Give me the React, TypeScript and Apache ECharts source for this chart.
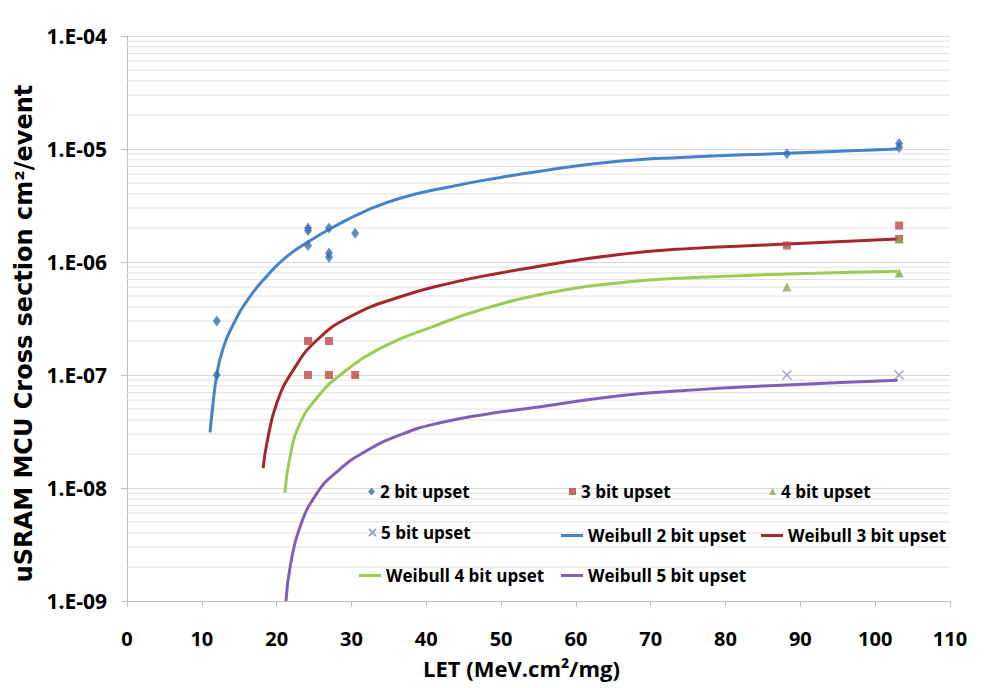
import React, { useEffect, useRef } from 'react';
import * as echarts from 'echarts';

// ---- Measured points (LET in MeV.cm²/mg, cross section in cm²/event) ----
const twoBitX = [12.0, 12.0, 24.2, 24.2, 24.2, 27.0, 27.0, 27.0, 30.5, 88.2, 103.2, 103.2];
const twoBitY = [3.0e-7, 1.0e-7, 2.0e-6, 1.9e-6, 1.4e-6, 2.0e-6, 1.2e-6, 1.1e-6, 1.8e-6, 9.1e-6, 1.12e-5, 1.03e-5];

const threeBitX = [24.2, 27.0, 24.2, 27.0, 30.5, 88.2, 103.2, 103.2];
const threeBitY = [2.0e-7, 2.0e-7, 1.0e-7, 1.0e-7, 1.0e-7, 1.4e-6, 2.1e-6, 1.6e-6];

const fourBitX = [88.2, 103.2, 103.2];
const fourBitY = [6.0e-7, 8.0e-7, 1.6e-6];

const fiveBitX = [88.2, 103.2];
const fiveBitY = [1.0e-7, 1.0e-7];

// ---- Weibull fit curves ----
const weibull2X = [11.1, 11.5, 12.0, 12.7, 14.2, 16.4, 18.7, 21.3, 24.5, 27.6, 32.0, 36.5, 43.2, 49.9, 56.1, 65.0, 73.9, 88.2, 103];
const weibull2Y = [3.1e-8, 5.6e-8, 1.0e-7, 1.6e-7, 2.8e-7, 4.9e-7, 7.5e-7, 1.11e-6, 1.55e-6, 2.04e-6, 2.85e-6, 3.67e-6, 4.64e-6, 5.6e-6, 6.5e-6, 7.7e-6, 8.41e-6, 9.16e-6, 1.0e-5];

const weibull3X = [18.2, 18.7, 20.0, 22.2, 25.4, 29.8, 36.5, 43.2, 49.9, 56.1, 65.0, 73.9, 88.2, 103];
const weibull3Y = [1.5e-8, 2.5e-8, 5.6e-8, 1.1e-7, 2.04e-7, 3.28e-7, 4.93e-7, 6.5e-7, 8.0e-7, 9.4e-7, 1.15e-6, 1.3e-6, 1.44e-6, 1.6e-6];

const weibull4X = [21.1, 21.8, 23.1, 25.4, 28.5, 34.3, 40.9, 47.2, 56.1, 65.0, 73.9, 88.2, 103];
const weibull4Y = [9.1e-9, 1.9e-8, 3.7e-8, 6.3e-8, 1.0e-7, 1.78e-7, 2.68e-7, 3.76e-7, 5.28e-7, 6.46e-7, 7.17e-7, 7.83e-7, 8.3e-7];

const weibull5X = [21.25, 21.8, 23.1, 25.4, 28.0, 31.5, 36.5, 42.0, 48.0, 55.0, 65.0, 74.0, 88.2, 103];
const weibull5Y = [1.0e-9, 2.0e-9, 4.5e-9, 9.0e-9, 1.38e-8, 2.04e-8, 2.95e-8, 3.8e-8, 4.5e-8, 5.2e-8, 6.46e-8, 7.24e-8, 8.17e-8, 9.0e-8];

// ---- Axes ----
const xMin = 0;
const xMax = 110;
const xInterval = 10;
const yMin = 1e-9;
const yMax = 1e-4;
const minorMultipliers = [2, 3, 4, 5, 6, 7, 8, 9];
const minorDecades = [1e-9, 1e-8, 1e-7, 1e-6, 1e-5];

const seriesNames = [
  '2 bit upset',
  '3 bit upset',
  '4 bit upset',
  '5 bit upset',
  'Weibull 2 bit upset',
  'Weibull 3 bit upset',
  'Weibull 4 bit upset',
  'Weibull 5 bit upset',
];

const zip = (xs: number[], ys: number[]) => xs.map((x, i) => [x, ys[i]]);

const OPEN = "'Open Sans', 'Noto Sans', sans-serif";
const WIDE = "'DejaVu Sans', 'Open Sans', sans-serif";

const C = {
  p2: '#3a6fb2',
  p3: '#be4744',
  p4: '#8ba64c',
  p5: '#8a8db5',
  w2: '#4383cb',
  w3: '#a4282b',
  w4: '#9dcb52',
  w5: '#7f5fb8',
};

const X_PATH = 'path://M0,0L10,10M10,0L0,10';

function legendItem(left: number, top: number, name: string, icon: string, w: number, h: number) {
  return {
    show: true,
    left,
    top,
    padding: 0,
    itemWidth: w,
    itemHeight: h,
    itemGap: 0,
    selectedMode: false,
    textStyle: { fontFamily: OPEN, fontWeight: 'bold', fontSize: 17, color: '#000000' },
    data: [{ name, icon }],
  };
}

function buildOption() {
  const minorValues: number[] = [];
  minorDecades.forEach((d) => minorMultipliers.forEach((m) => minorValues.push(m * d)));

  const lineSeries = (name: string, xs: number[], ys: number[], color: string) => ({
    name,
    type: 'line',
    data: zip(xs, ys),
    symbol: 'none',
    showSymbol: false,
    smooth: 0.5,
    lineStyle: { color, width: 3 },
    itemStyle: { color },
    z: 3,
  });

  return {
    animation: false,
    backgroundColor: '#ffffff',
    grid: { left: 127, right: 40, top: 36, bottom: 87, containLabel: false },
    xAxis: {
      type: 'value',
      min: xMin,
      max: xMax,
      interval: xInterval,
      name: 'LET (MeV.cm²/mg)',
      nameLocation: 'middle',
      nameGap: 56,
      nameTextStyle: { fontFamily: OPEN, fontWeight: 'bold', fontSize: 22, color: '#000000', padding: [0, 34, 0, 0] },
      axisLine: { show: true, onZero: false, lineStyle: { color: '#bfbfbf', width: 1 } },
      axisTick: { show: true, length: 6, lineStyle: { color: '#bfbfbf' } },
      axisLabel: { margin: 27, fontFamily: OPEN, fontWeight: 'bold', fontSize: 20, color: '#000000' },
      splitLine: { show: false },
    },
    yAxis: {
      type: 'log',
      logBase: 10,
      min: yMin,
      max: yMax,
      name: 'uSRAM MCU Cross section cm²/event',
      nameLocation: 'middle',
      nameRotate: 90,
      nameGap: 89,
      nameTextStyle: { fontFamily: WIDE, fontWeight: 'bold', fontSize: 24, color: '#000000', padding: [0, 30, 0, 0] },
      axisLine: { show: true, lineStyle: { color: '#bfbfbf', width: 1 } },
      axisTick: { show: true, length: 6, lineStyle: { color: '#bfbfbf' } },
      axisLabel: {
        margin: 20,
        fontFamily: OPEN,
        fontWeight: 'bold',
        fontSize: 21,
        color: '#000000',
        formatter: (v: number) => {
          const e = Math.round(Math.log10(v));
          return '1.E-' + String(-e).padStart(2, '0');
        },
      },
      splitLine: { show: true, lineStyle: { color: '#d9d9d9', width: 1 } },
    },
    legend: [
      legendItem(368, 483, seriesNames[0], 'diamond', 7, 8),
      legendItem(569, 483, seriesNames[1], 'rect', 7, 7),
      legendItem(769, 483, seriesNames[2], 'triangle', 7, 7),
      legendItem(368, 524, seriesNames[3], X_PATH, 7, 7),
      legendItem(561, 527, seriesNames[4], 'rect', 22, 3),
      legendItem(761, 527, seriesNames[5], 'rect', 22, 3),
      legendItem(359, 567, seriesNames[6], 'rect', 22, 3),
      legendItem(561, 567, seriesNames[7], 'rect', 22, 3),
    ],
    series: [
      {
        name: '_minorGrid',
        type: 'custom',
        silent: true,
        z: 1,
        clip: false,
        data: minorValues.map((v) => [xMin, v]),
        encode: { x: 0, y: 1 },
        renderItem: (_params: any, api: any) => {
          const v = api.value(1);
          const p1 = api.coord([xMin, v]);
          const p2 = api.coord([xMax, v]);
          return {
            type: 'line',
            shape: { x1: p1[0], y1: p1[1], x2: p2[0], y2: p2[1] },
            style: { stroke: '#e1e1e1', lineWidth: 1 },
            silent: true,
          };
        },
      },
      lineSeries(seriesNames[4], weibull2X, weibull2Y, C.w2),
      lineSeries(seriesNames[5], weibull3X, weibull3Y, C.w3),
      lineSeries(seriesNames[6], weibull4X, weibull4Y, C.w4),
      lineSeries(seriesNames[7], weibull5X, weibull5Y, C.w5),
      {
        name: seriesNames[0],
        type: 'scatter',
        data: zip(twoBitX, twoBitY),
        symbol: 'diamond',
        symbolSize: [8, 11],
        itemStyle: { color: C.p2 },
        z: 4,
      },
      {
        name: seriesNames[1],
        type: 'scatter',
        data: zip(threeBitX, threeBitY),
        symbol: 'rect',
        symbolSize: 8,
        itemStyle: { color: C.p3 },
        z: 4,
      },
      {
        name: seriesNames[2],
        type: 'scatter',
        data: zip(fourBitX, fourBitY),
        symbol: 'triangle',
        symbolSize: 9,
        itemStyle: { color: C.p4 },
        z: 4,
      },
      {
        name: seriesNames[3],
        type: 'scatter',
        data: zip(fiveBitX, fiveBitY),
        symbol: X_PATH,
        symbolSize: 9,
        itemStyle: { color: 'rgba(0,0,0,0)', borderColor: C.p5, borderWidth: 1.5 },
        z: 4,
      },
    ],
  };
}

export default function App() {
  const ref = useRef<HTMLDivElement>(null);
  useEffect(() => {
    if (!ref.current) return;
    const chart = echarts.init(ref.current, undefined, { renderer: 'svg' });
    chart.setOption(buildOption() as any);
    return () => chart.dispose();
  }, []);
  return <div ref={ref} style={{ width: 990, height: 688, position: 'absolute', left: 0, top: 0, background: '#fff' }} />;
}
